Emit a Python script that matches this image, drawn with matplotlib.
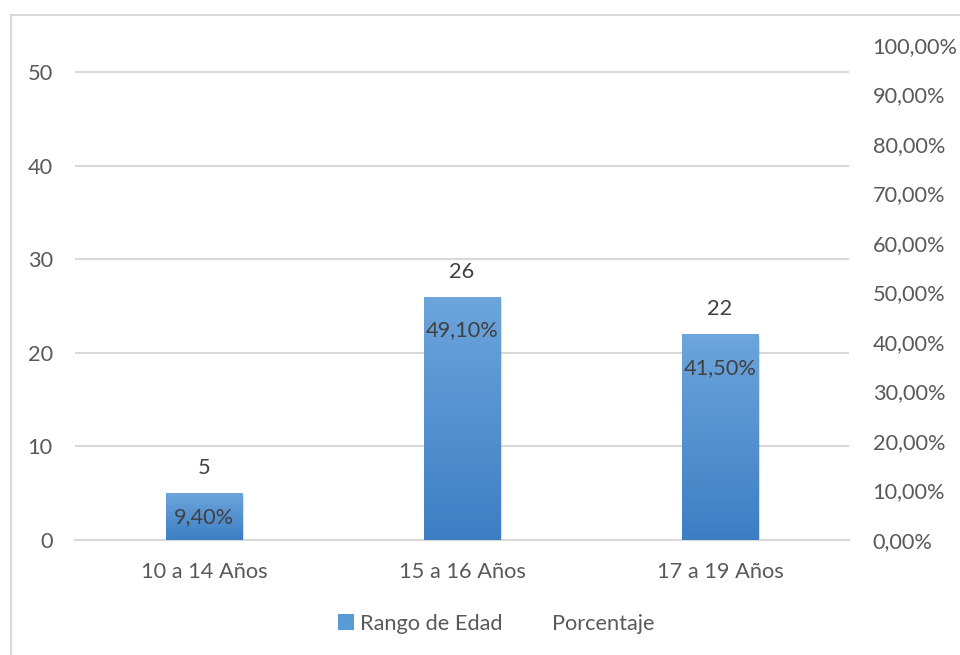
import numpy as np
import matplotlib.pyplot as plt
from matplotlib.patches import Rectangle, Patch
from matplotlib.lines import Line2D
from matplotlib.colors import LinearSegmentedColormap

# data
categories = ['10 a 14 Años', '15 a 16 Años', '17 a 19 Años']
counts = [5, 26, 22]
percents = [0.094, 0.491, 0.415]
pct_labels = ['9,40%', '49,10%', '41,50%']
left_ticks = [0, 10, 20, 30, 40, 50]
right_ticks = [i / 10 for i in range(11)]

plt.rcParams['font.family'] = ['Lato', 'DejaVu Sans']
FS = 15.7

fig = plt.figure(figsize=(9.6, 6.55), dpi=100)
ax = fig.add_axes([75 / 960, 1 - 540 / 655, 774 / 960, 495 / 655])
ax2 = ax.twinx()

# chart frame (cut off at right and bottom)
fig.patches.append(Rectangle((11 / 960, -0.1), 2, 1 - 15 / 655 + 0.1,
                             transform=fig.transFigure, fill=False,
                             edgecolor='#d9d9d9', linewidth=1.5))

x = np.arange(len(categories))
width = 0.295
ax.set_xlim(-0.5, 2.5)
ax.set_ylim(0, 495 / 9.36)
ax2.set_ylim(0, 1)

cmap = LinearSegmentedColormap.from_list('bar', ['#3d7ec3', '#6da5dc'])
grad = np.linspace(0, 1, 256).reshape(-1, 1)
bars = ax.bar(x, counts, width, color='none', zorder=3)
for b in bars:
    x0, h = b.get_x(), b.get_height()
    # soft shadow
    ax.add_patch(Rectangle((x0 + 0.006, 0), width, h - 0.3, facecolor='#000000',
                           alpha=0.12, zorder=2.5, linewidth=0))
    im = ax.imshow(grad, extent=[x0, x0 + width, 0, h], origin='lower',
                   cmap=cmap, aspect='auto', zorder=3)
    im.set_clip_path(b)

for xi, c in zip(x, counts):
    ax.annotate(str(c), (xi, c), xytext=(0, 18), textcoords='offset points',
                ha='center', va='center', fontsize=FS, color='#404040')

ax2.plot(x, percents, color='none')
# the short bar gets its label a bit higher, like in the original
offsets = [-17, -24, -24]
for xi, p, lab, off in zip(x, percents, pct_labels, offsets):
    ax2.annotate(lab, (xi, p), xytext=(0, off), textcoords='offset points',
                 ha='center', va='center', fontsize=FS, color='#404040', zorder=5)

ax.set_yticks(left_ticks)
ax.set_xticks(x)
ax.set_xticklabels(categories)
ax.yaxis.grid(True, color='#d9d9d9', linewidth=1.5, zorder=0)
ax.set_axisbelow(True)
ax2.set_yticks(right_ticks)
ax2.set_yticklabels([f'{int(t * 100)},00%' for t in right_ticks])

for a in (ax, ax2):
    for s in a.spines.values():
        s.set_visible(False)
    a.tick_params(length=0, labelsize=FS, colors='#595959')
ax.spines['bottom'].set_visible(True)
ax.spines['bottom'].set_color('#d9d9d9')
ax.spines['bottom'].set_linewidth(1.5)
ax.tick_params(axis='y', pad=16)
ax.tick_params(axis='x', pad=16)
ax2.tick_params(axis='y', pad=17)

handles = [Patch(facecolor='#5b9bd5', edgecolor='none'),
           Line2D([], [], color='none')]
fig.legend(handles, ['Rango de Edad', 'Porcentaje'], loc='center',
           bbox_to_anchor=(496 / 960, 1 - 624 / 655), ncol=2, frameon=False,
           fontsize=FS, labelcolor='#595959', handlelength=0.75,
           handleheight=0.75, handletextpad=0.3, columnspacing=1.2)

fig.savefig('out.png', dpi=100)
